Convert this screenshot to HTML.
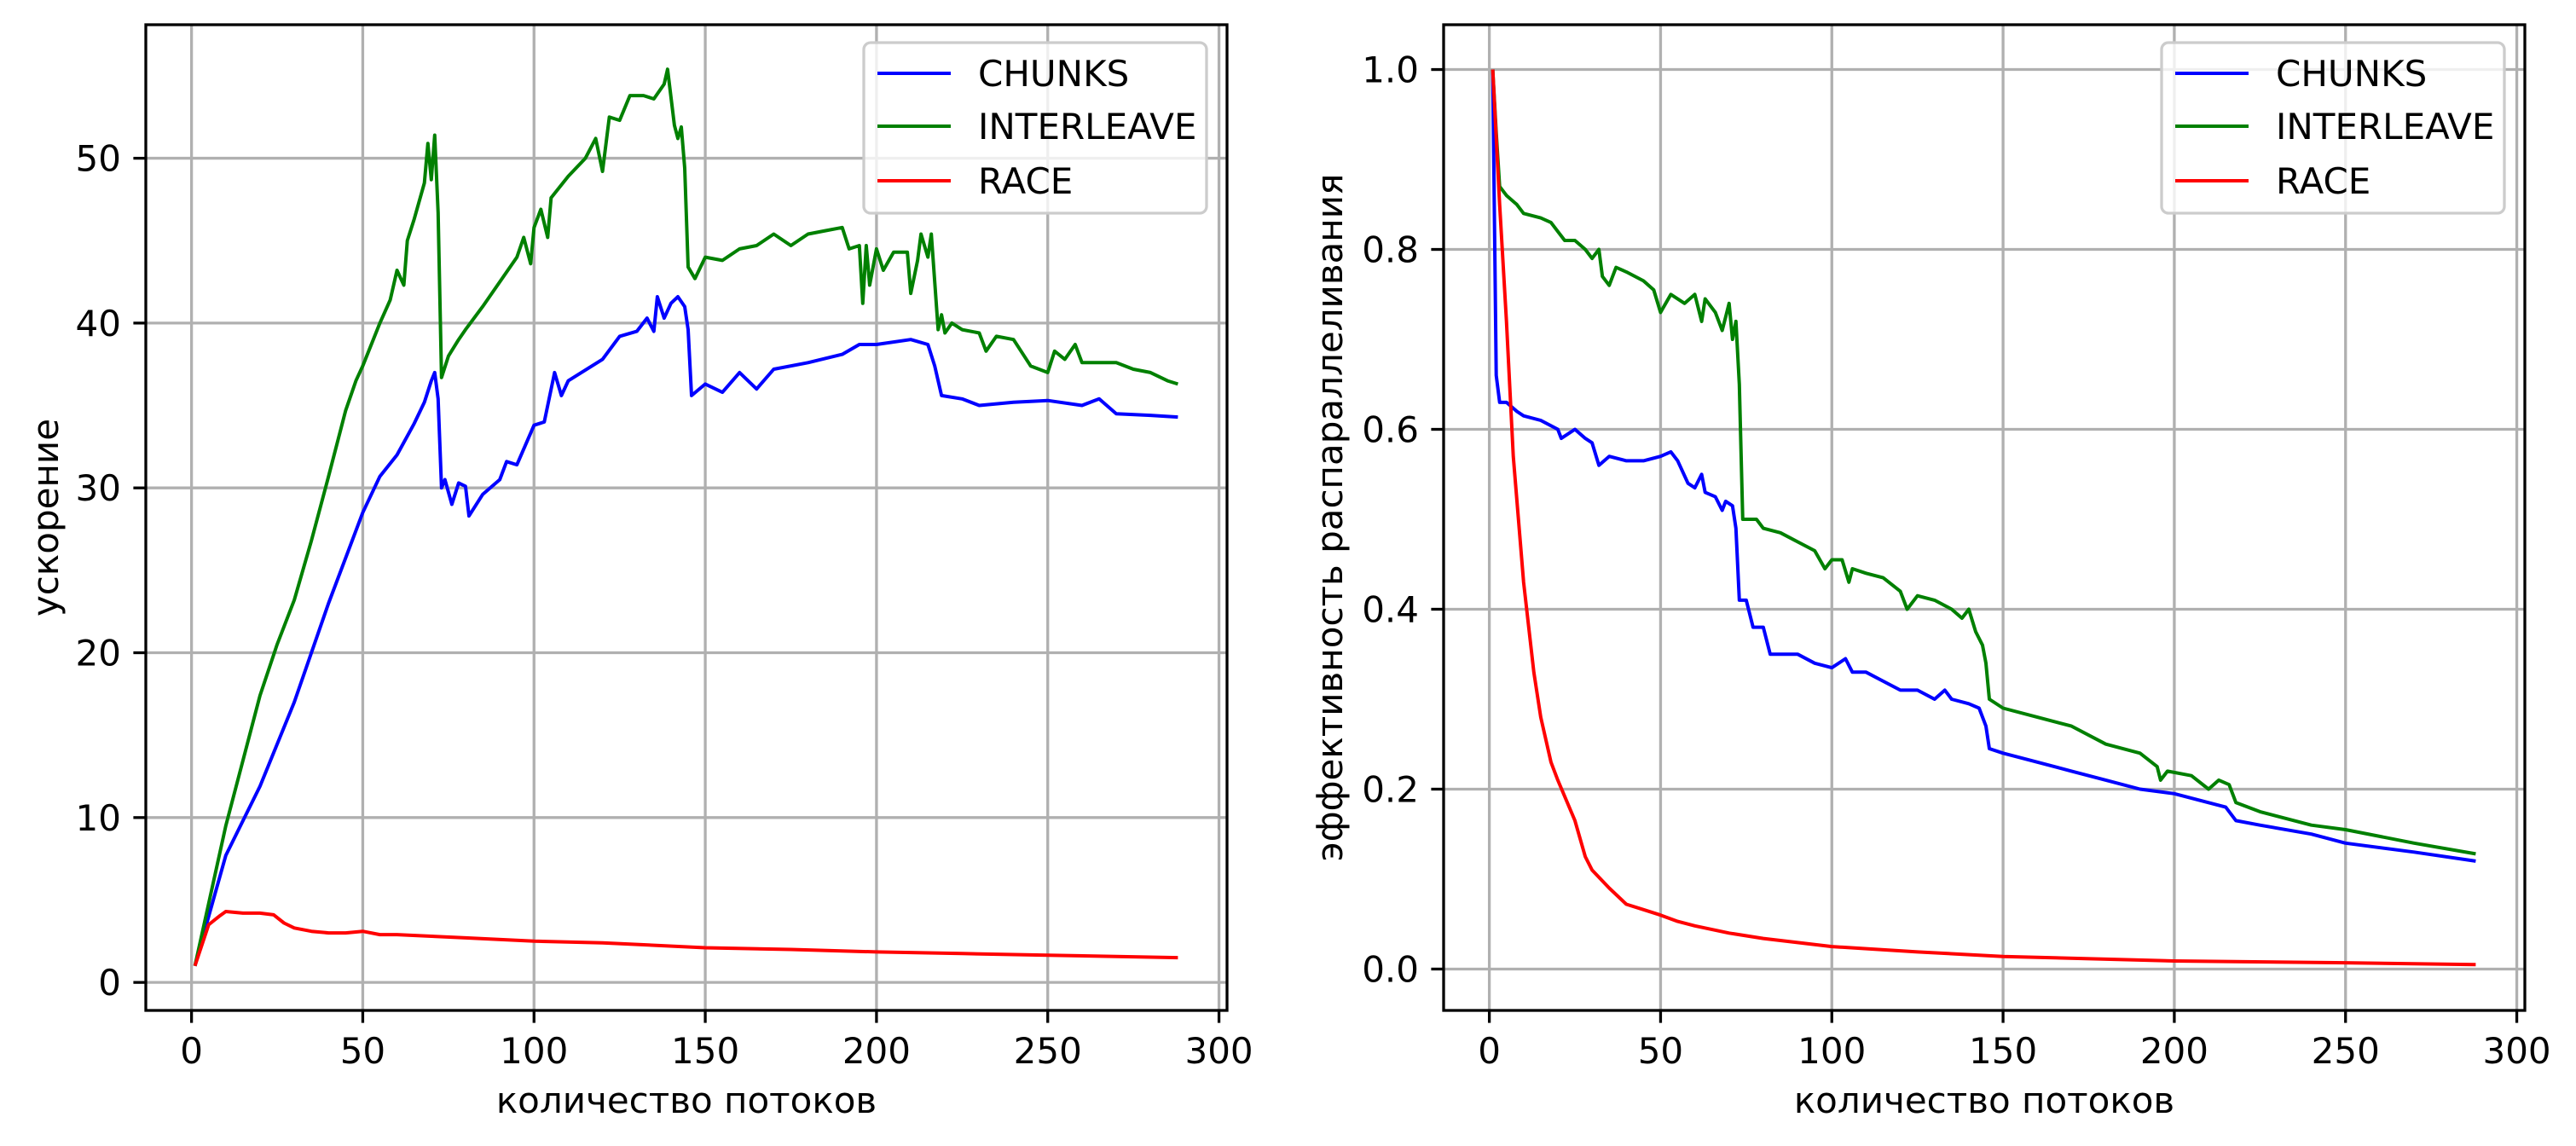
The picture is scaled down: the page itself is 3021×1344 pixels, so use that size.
<!DOCTYPE html>
<html><head><meta charset="utf-8"><style>
html,body{margin:0;padding:0;background:#fff;}
svg{display:block;font-family:"DejaVu Sans","Liberation Sans",sans-serif;}
</style></head><body>
<svg id="chart" width="3021" height="1344" viewBox="0 0 3021 1344" xmlns="http://www.w3.org/2000/svg"></svg>
<script>
// ---- Data: speedup chart ----
const spChunksX = [1,5,10,20,30,40,50,55,60,65,68,70,71,72,73,74,76,78,80,81,85,90,92,95,100,103,106,108,110,120,125,130,133,135,136,138,140,142,144,145,146,150,155,160,165,170,180,190,195,200,210,215,217,219,225,230,240,250,260,265,270,280,288];
const spChunksY = [1,4,7.7,11.9,17,23,28.5,30.7,32,33.9,35.2,36.5,37,35.4,30,30.5,29,30.3,30.1,28.3,29.6,30.5,31.6,31.4,33.8,34,37,35.6,36.5,37.8,39.2,39.5,40.3,39.5,41.6,40.3,41.2,41.6,41,39.6,35.6,36.3,35.8,37,36,37.2,37.6,38.1,38.7,38.7,39,38.7,37.4,35.6,35.4,35,35.2,35.3,35,35.4,34.5,34.4,34.3];
const spInterX = [1,10,20,25,30,35,40,45,48,50,55,58,60,62,63,65,68,69,70,71,72,73,75,78,80,85,90,95,97,99,100,102,104,105,110,115,118,120,122,125,128,132,135,138,139,141,142,143,144,145,147,150,155,160,165,170,175,180,185,190,192,195,196,197,198,200,202,205,209,210,212,213,215,216,218,219,220,222,225,230,232,235,240,245,250,252,255,258,260,270,275,280,285,288];
const spInterY = [1,9.5,17.4,20.5,23.2,26.8,30.7,34.7,36.5,37.4,40,41.4,43.2,42.3,45,46.3,48.5,50.9,48.7,51.4,46.7,36.7,38,39,39.6,41,42.5,44,45.2,43.6,45.8,46.9,45.2,47.6,48.9,50,51.2,49.2,52.5,52.3,53.8,53.8,53.6,54.5,55.4,52,51.2,51.9,49.4,43.4,42.7,44,43.8,44.5,44.7,45.4,44.7,45.4,45.6,45.8,44.5,44.7,41.2,44.7,42.3,44.5,43.2,44.3,44.3,41.8,43.8,45.4,44,45.4,39.6,40.5,39.4,40,39.6,39.4,38.3,39.2,39,37.4,37,38.3,37.8,38.7,37.6,37.6,37.2,37,36.5,36.3];
const spRaceX = [1,5,8,10,15,20,24,27,30,35,40,45,50,55,60,70,80,100,120,150,175,200,225,250,288];
const spRaceY = [1,3.5,4.0,4.3,4.2,4.2,4.1,3.6,3.3,3.1,3.0,3.0,3.1,2.9,2.9,2.8,2.7,2.5,2.4,2.1,2.0,1.85,1.75,1.65,1.5];
// ---- Data: efficiency chart ----
const efChunksX = [1,2,3,5,8,10,15,20,21,25,28,30,32,35,40,45,50,53,55,58,60,62,63,66,68,69,71,72,73,75,77,80,82,85,90,95,100,104,106,110,115,120,125,130,133,135,140,143,145,146,150,160,170,180,190,200,210,215,218,225,240,250,270,288];
const efChunksY = [1.0,0.66,0.63,0.63,0.62,0.615,0.61,0.6,0.59,0.6,0.59,0.585,0.56,0.57,0.565,0.565,0.57,0.575,0.565,0.54,0.535,0.55,0.53,0.525,0.51,0.52,0.515,0.49,0.41,0.41,0.38,0.38,0.35,0.35,0.35,0.34,0.335,0.345,0.33,0.33,0.32,0.31,0.31,0.3,0.31,0.3,0.295,0.29,0.27,0.245,0.24,0.23,0.22,0.21,0.2,0.195,0.185,0.18,0.165,0.16,0.15,0.14,0.13,0.12];
const efInterX = [1,2,3,5,8,10,15,18,20,22,25,28,30,32,33,35,37,40,45,48,50,53,57,60,62,63,66,68,69,70,71,72,73,74,78,80,85,90,95,98,100,103,105,106,110,115,120,122,125,130,135,138,140,142,144,145,146,150,160,170,180,190,195,196,198,205,210,213,216,218,225,240,250,270,288];
const efInterY = [1.0,0.93,0.87,0.86,0.85,0.84,0.835,0.83,0.82,0.81,0.81,0.8,0.79,0.8,0.77,0.76,0.78,0.775,0.765,0.755,0.73,0.75,0.74,0.75,0.72,0.745,0.73,0.71,0.725,0.74,0.7,0.72,0.65,0.5,0.5,0.49,0.485,0.475,0.465,0.445,0.455,0.455,0.43,0.445,0.44,0.435,0.42,0.4,0.415,0.41,0.4,0.39,0.4,0.375,0.36,0.34,0.3,0.29,0.28,0.27,0.25,0.24,0.225,0.21,0.22,0.215,0.2,0.21,0.205,0.185,0.175,0.16,0.155,0.14,0.128];
const efRaceX = [1,3,5,7,10,13,15,18,20,25,28,30,35,40,45,50,55,60,70,80,100,125,150,200,250,288];
const efRaceY = [1.0,0.85,0.72,0.57,0.43,0.33,0.28,0.23,0.21,0.165,0.125,0.11,0.09,0.072,0.066,0.06,0.053,0.048,0.04,0.034,0.025,0.019,0.014,0.009,0.007,0.005];
const xTicks = [0,50,100,150,200,250,300];
const spYTicks = [0,10,20,30,40,50];
const efYTicks = [0.0,0.2,0.4,0.6,0.8,1.0];
const legendLabels = ["CHUNKS","INTERLEAVE","RACE"];
const seriesColors = ["#0000ff","#008000","#ff0000"];

const NS = "http://www.w3.org/2000/svg";
const svg = document.getElementById('chart');
function mk(tag, attrs, parent){
  const e = document.createElementNS(NS, tag);
  for (const k in attrs) e.setAttribute(k, attrs[k]);
  (parent||svg).appendChild(e);
  return e;
}
const AX_W = 1268, AX_H = 1156, AX_T = 29;
const XMIN = -13.35, XMAX = 302.35;

function panel(left, yMin, yMax, yTicks, yFmt, series, ylabel, ylabelX, legendX, prefix){
  const g = mk('g', {});
  
  
  const sx = v => left + (v - XMIN) / (XMAX - XMIN) * AX_W;
  const sy = v => AX_T + AX_H - (v - yMin) / (yMax - yMin) * AX_H;
  const bottom = AX_T + AX_H;
  // grid
  xTicks.forEach(t => {
    const l = mk('line', {x1:sx(t), x2:sx(t), y1:AX_T, y2:bottom, stroke:'#b0b0b0', 'stroke-width':3.3}, g);
    
    
  });
  yTicks.forEach(t => {
    const l = mk('line', {x1:left, x2:left+AX_W, y1:sy(t), y2:sy(t), stroke:'#b0b0b0', 'stroke-width':3.3}, g);
    
    
  });
  // series
  series.forEach((s, i) => {
    const d = s.x.map((xv, j) => (j ? 'L' : 'M') + sx(xv).toFixed(1) + ',' + sy(s.y[j]).toFixed(1)).join(' ');
    const p = mk('path', {d:d, fill:'none', stroke:seriesColors[i], 'stroke-width':4, 'stroke-linejoin':'round'}, g);
    
    
  });
  // spines
  const fr = mk('rect', {x:left, y:AX_T, width:AX_W, height:AX_H, fill:'none', stroke:'#000', 'stroke-width':3.3}, g);
  
  
  // ticks
  xTicks.forEach(t => {
    mk('line', {x1:sx(t), x2:sx(t), y1:bottom, y2:bottom+14.6, stroke:'#000', 'stroke-width':3.3}, g);
    const tx = mk('text', {x:sx(t), y:bottom+62, 'font-size':42, 'text-anchor':'middle', fill:'#000'}, g);
    tx.textContent = t;
    
    
  });
  yTicks.forEach(t => {
    mk('line', {x1:left-14.6, x2:left, y1:sy(t), y2:sy(t), stroke:'#000', 'stroke-width':3.3}, g);
    const tx = mk('text', {x:left-29, y:sy(t)+15, 'font-size':42, 'text-anchor':'end', fill:'#000'}, g);
    tx.textContent = yFmt(t);
    
    
  });
  // axis labels
  const xl = mk('text', {x:left+AX_W/2, y:1305, 'font-size':42, 'text-anchor':'middle', fill:'#000'}, g);
  xl.textContent = 'количество потоков';
  
  
  const cy = AX_T + AX_H/2;
  const yl = mk('text', {x:ylabelX, y:cy, 'font-size':42, 'text-anchor':'middle', fill:'#000', transform:'rotate(-90 '+ylabelX+' '+cy+')'}, g);
  yl.textContent = ylabel;
  
  
  // legend
  const lg = mk('g', {}, g);
  
  
  mk('rect', {x:legendX, y:50, width:402, height:200, rx:8, fill:'#fff', 'fill-opacity':0.8, stroke:'#cccccc', 'stroke-width':3.3}, lg);
  const rows = [86, 148, 212];
  legendLabels.forEach((lab, i) => {
    const e = mk('g', {}, lg);
    
    
    mk('line', {x1:legendX+16, x2:legendX+102, y1:rows[i], y2:rows[i], stroke:seriesColors[i], 'stroke-width':4}, e);
    const t = mk('text', {x:legendX+134, y:rows[i]+15, 'font-size':42, fill:'#000'}, e);
    t.textContent = lab;
  });
}

panel(171, -1.7, 58.1, spYTicks, t => String(t),
  [{x:spChunksX, y:spChunksY},{x:spInterX, y:spInterY},{x:spRaceX, y:spRaceY}],
  'ускорение', 68, 1013, 'speedup');
panel(1693, -0.046, 1.0498, efYTicks, t => t.toFixed(1),
  [{x:efChunksX, y:efChunksY},{x:efInterX, y:efInterY},{x:efRaceX, y:efRaceY}],
  'эффективность распараллеливания', 1574, 2535, 'efficiency');
</script>
</body></html>
